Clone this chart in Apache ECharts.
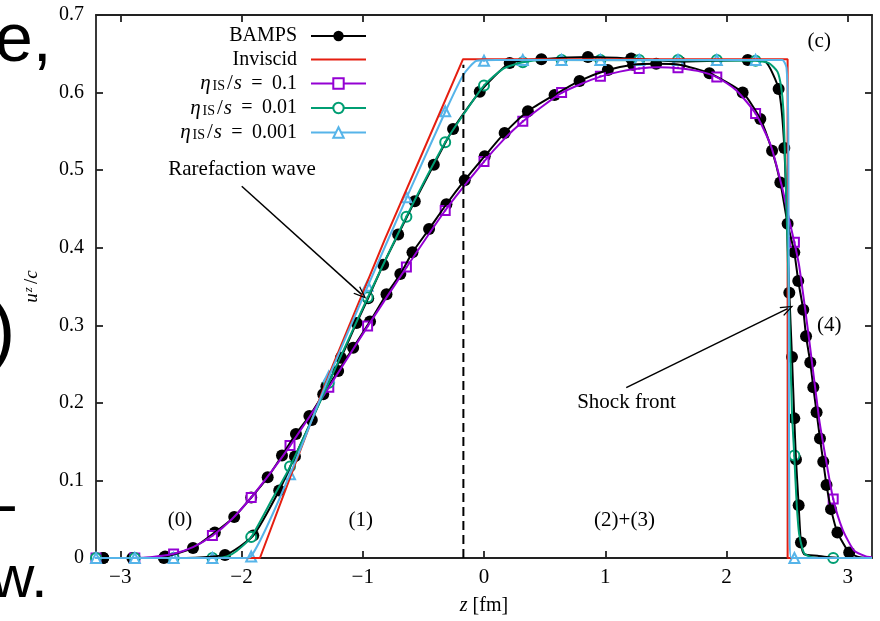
<!DOCTYPE html>
<html><head><meta charset="utf-8">
<script src="https://cdn.jsdelivr.net/npm/echarts@6/dist/echarts.min.js"></script>
<style>html,body{margin:0;padding:0;background:#fff}#c{width:880px;height:621px}</style>
</head><body><div id="c"></div>
<script>
const SERIF = "'Liberation Serif','Times New Roman',serif";
const SANS = "'Liberation Sans',Arial,sans-serif";

// ---- axes ----
const xTicks = [-3, -2, -1, 0, 1, 2, 3];
const yTicks = [0, 0.1, 0.2, 0.3, 0.4, 0.5, 0.6, 0.7];

// ---- marker grid shared by the hydro curves ----
const markZ = [-3.2,-2.88,-2.56,-2.24,-1.92,-1.6,-1.28,-0.96,-0.64,-0.32,0,0.32,0.64,0.96,1.28,1.6,1.92,2.24,2.56,2.88,3.2];
const eta01Marks   = [0,0,0.005,0.029,0.078,0.145,0.220,0.299,0.375,0.448,0.511,0.563,0.600,0.621,0.631,0.632,0.620,0.573,0.407,0.076,null];
const eta001Marks  = [0,0,0,0,0.027,0.118,0.226,0.336,0.440,0.536,0.609,0.639,0.642,0.642,0.642,0.642,0.642,0.641,0.132,0,null];
const eta0001Marks = [0,0,0,0,0.002,0.108,0.234,0.351,0.465,0.576,0.641,0.642,0.642,0.642,0.642,0.642,0.642,0.642,0,null,null];

// ---- continuous curves ----
const inviscidCurve = [[-3.2,0],[-1.848,0],[-1.594,0.106],[-1.298,0.229],[-0.817,0.411],[-0.5,0.525],[-0.173,0.643],[2.504,0.643],[2.504,0],[3.2,0]];
const eta01Curve = [[-3.2,0],[-2.88,0],[-2.75,0.001],[-2.56,0.0055],[-2.4,0.014],[-2.24,0.0287],[-2.08,0.05],[-1.92,0.078],[-1.76,0.11],[-1.6,0.1445],[-1.28,0.2197],[-0.96,0.2986],[-0.64,0.3745],[-0.32,0.448],[0,0.511],[0.16,0.539],[0.32,0.5626],[0.48,0.582],[0.64,0.5995],[0.8,0.611],[0.96,0.6205],[1.12,0.627],[1.28,0.631],[1.44,0.6325],[1.6,0.6315],[1.76,0.628],[1.92,0.620],[2.08,0.603],[2.24,0.573],[2.367,0.531],[2.463,0.475],[2.504,0.445],[2.56,0.4067],[2.6,0.376],[2.683,0.28],[2.764,0.179],[2.82,0.127],[2.88,0.076],[2.957,0.037],[3.053,0.0094],[3.15,0.002],[3.2,0.001]];
const eta001Curve = [[-3.2,0],[-2.2,0],[-2.12,0.002],[-2.04,0.009],[-1.92,0.027],[-1.74,0.078],[-1.6,0.1175],[-1.28,0.226],[-0.96,0.3355],[-0.64,0.44],[-0.32,0.536],[-0.16,0.574],[0,0.609],[0.16,0.631],[0.32,0.639],[0.5,0.642],[2.24,0.641],[2.35,0.638],[2.42,0.627],[2.45,0.608],[2.469,0.578],[2.485,0.505],[2.496,0.445],[2.518,0.316],[2.54,0.1875],[2.559,0.132],[2.578,0.072],[2.6,0.03],[2.64,0.006],[2.7,0.001],[2.76,0],[3.2,0]];
const eta0001Curve = [[-3.2,0],[-2.0,0],[-1.93,0.001],[-1.6,0.108],[-1.28,0.233],[-0.96,0.35],[-0.64,0.464],[-0.32,0.575],[-0.17,0.623],[-0.06,0.641],[0.1,0.642],[2.46,0.642],[2.495,0.632],[2.51,0.55],[2.515,0.2],[2.52,0.03],[2.535,0],[3.2,0]];

// ---- BAMPS points (two runs) ----
const bampsA = [[-3.14,0],[-2.9,0],[-2.63,0.002],[-2.40,0.013],[-2.22,0.033],[-2.06,0.053],[-1.92,0.078],[-1.784,0.104],[-1.666,0.132],[-1.551,0.16],[-1.44,0.183],[-1.326,0.211],[-1.203,0.241],[-1.079,0.271],[-0.94,0.305],[-0.804,0.34],[-0.69,0.366],[-0.59,0.394],[-0.453,0.424],[-0.31,0.456],[-0.159,0.487],[0.006,0.518],[0.17,0.548],[0.362,0.576],[0.582,0.597],[0.788,0.615],[1.021,0.629],[1.23,0.636],[1.42,0.637],[1.612,0.636],[1.859,0.625],[2.133,0.6],[2.279,0.566],[2.376,0.525],[2.444,0.484],[2.504,0.431],[2.559,0.394],[2.592,0.357],[2.633,0.32],[2.656,0.286],[2.691,0.252],[2.716,0.22],[2.743,0.188],[2.771,0.154],[2.798,0.124],[2.825,0.094],[2.862,0.063],[2.915,0.033],[3.012,0.007]];
const bampsAEnds = [[-3.2,0],[3.1,0.001],[3.2,0]];
const bampsB = [[-3.14,0],[-2.64,0],[-2.136,0.004],[-1.903,0.029],[-1.689,0.087],[-1.559,0.131],[-1.42,0.178],[-1.3,0.221],[-1.18,0.258],[-1.051,0.303],[-0.955,0.335],[-0.832,0.378],[-0.708,0.417],[-0.571,0.46],[-0.414,0.507],[-0.255,0.553],[-0.035,0.601],[0.212,0.638],[0.473,0.643],[0.857,0.646],[1.214,0.644],[1.612,0.64],[2.175,0.642],[2.43,0.6045],[2.477,0.5286],[2.518,0.342],[2.54,0.259],[2.559,0.18],[2.573,0.127],[2.595,0.068],[2.614,0.02]];
const bampsBEnds = [[-3.2,0],[2.32,0.64],[2.64,0.005],[2.75,0.003],[2.85,0.001],[2.95,0],[3.2,0]];

// ---- annotations (data coordinates) ----
const dashedZ = -0.17, dashedTop = 0.636;
const textNotes = [
  {t:'Rarefaction wave', z:-1.996, u:0.5006},
  {t:'Shock front', z:1.175, u:0.2008},
  {t:'(c)', z:2.765, u:0.6654},
  {t:'(0)', z:-2.507, u:0.049},
  {t:'(1)', z:-1.016, u:0.049},
  {t:'(2)+(3)', z:1.159, u:0.049},
  {t:'(4)', z:2.847, u:0.300}
];
const arrows = [
  {from:[-1.998,0.4792], to:[-1.01,0.3398]},
  {from:[1.173,0.2197], to:[2.504,0.3214]}
];

const COLORS = {bamps:'#000000', inv:'#e51e10', e1:'#9400d3', e2:'#009e73', e3:'#56b4e9'};

function pairs(zs, us){ const o=[]; zs.forEach((z,i)=>{ if(us[i]!==null) o.push([z,us[i]]); }); return o; }
function merged(a,b){ return a.concat(b).sort((p,q)=>p[0]-q[0]); }

const ETA = '{i|η}{sub|IS}{sl|/}{s|s}{eq|=}';
const LEG = {
  'BAMPS': '{n|BAMPS}{gap| }',
  'Inviscid': '{n|Inviscid}{gap| }',
  'eta01': ETA + '{n|0.1}{gap| }',
  'eta001': ETA + '{n|0.01}{gap| }',
  'eta0001': ETA + '{n|0.001}{gap| }'
};

function hydro(name, color, sym, size, curve, marks){
  return [
    {type:'line', name:name, data:curve, showSymbol:false, symbol:sym, symbolSize:size, smooth:0.2,
     lineStyle:{color:color, width:2}, itemStyle:{color:color}, silent:true},
    {type:'scatter', data:marks, symbol:sym, symbolSize:size, clip:false, silent:true,
     itemStyle:{color:color, borderColor:color, borderWidth:1.8, opacity:1}},
    {type:'scatter', data:marks, symbol:'rect', symbolSize:2, clip:false, silent:true,
     itemStyle:{color:color, opacity:1}}
  ];
}

const chevron = 'path://M10,0 L20,24 L17.4,24 L10,6.2 L2.6,24 L0,24 Z';

const series = [
  {type:'line', name:'BAMPS', data:merged(bampsA,bampsAEnds), showSymbol:false, symbol:'circle', symbolSize:12, smooth:0.2,
   lineStyle:{color:'#000', width:2}, itemStyle:{color:'#000'}, silent:true},
  {type:'scatter', data:bampsA, symbol:'circle', symbolSize:12, clip:false, silent:true, itemStyle:{color:'#000', opacity:1}},
  {type:'line', name:'BAMPS B', data:merged(bampsB,bampsBEnds), showSymbol:false, symbol:'circle', smooth:0.2,
   lineStyle:{color:'#000', width:2}, itemStyle:{color:'#000'}, silent:true},
  {type:'scatter', data:bampsB, symbol:'circle', symbolSize:12, clip:false, silent:true, itemStyle:{color:'#000', opacity:1}},
  {type:'line', name:'Inviscid', data:inviscidCurve, showSymbol:false, symbol:'none', lineStyle:{color:COLORS.inv, width:2}, itemStyle:{color:COLORS.inv}, silent:true},
  ...hydro('eta01', COLORS.e1, 'emptyRect', 9, eta01Curve, pairs(markZ, eta01Marks)),
  ...hydro('eta001', COLORS.e2, 'emptyCircle', 10, eta001Curve, pairs(markZ, eta001Marks)),
  ...hydro('eta0001', COLORS.e3, 'emptyTriangle', 10, eta0001Curve, pairs(markZ, eta0001Marks)),
  {type:'line', name:'dash', data:[[dashedZ,0],[dashedZ,dashedTop]], showSymbol:false, symbol:'none', silent:true,
   lineStyle:{color:'#000', width:2, type:[9,5]},
   markLine:{silent:true, symbol:['none', chevron], symbolSize:[10,13],
     lineStyle:{color:'#000', width:1.5, type:'solid'}, label:{show:false},
     data: arrows.map(a=>[{coord:a.from},{coord:a.to}])},
   markPoint:{silent:true, symbol:'circle', symbolSize:1, itemStyle:{color:'rgba(0,0,0,0)'},
     label:{show:true, position:'inside', formatter:'{b}', fontFamily:SERIF, fontSize:21, color:'#000'},
     data: textNotes.map(n=>({name:n.t, coord:[n.z,n.u]}))}
  }
];

const axisLineStyle = {color:'#222', width:1.8};
const chart = echarts.init(document.getElementById('c'));
chart.setOption({
  animation:false,
  backgroundColor:'#fff',
  grid:{left:96, right:8, top:15, bottom:62},
  xAxis:[
    {type:'value', min:-3.2, max:3.2, position:'bottom',
     axisLine:{show:true, onZero:false, lineStyle:axisLineStyle},
     axisTick:{show:true, inside:true, length:7, customValues:xTicks, lineStyle:axisLineStyle},
     axisLabel:{customValues:xTicks, margin:9, fontFamily:SERIF, fontSize:21, color:'#000',
       formatter:v=>String(v).replace('-', '\u2212')},
     splitLine:{show:false},
     name:'{i|z}{n| [fm]}', nameLocation:'middle', nameGap:38,
     nameTextStyle:{rich:{i:{fontFamily:SERIF, fontSize:20, fontStyle:'italic', color:'#000', lineHeight:20},
                          n:{fontFamily:SERIF, fontSize:20, color:'#000', lineHeight:20}}}},
    {type:'value', min:-3.2, max:3.2, position:'top',
     axisLine:{show:true, onZero:false, lineStyle:axisLineStyle},
     axisTick:{show:true, inside:true, length:7, customValues:xTicks, lineStyle:axisLineStyle},
     axisLabel:{show:false}, splitLine:{show:false}}
  ],
  yAxis:[
    {type:'value', min:0, max:0.7, interval:0.1, position:'left',
     axisLine:{show:true, onZero:false, lineStyle:axisLineStyle},
     axisTick:{show:true, inside:true, length:7, lineStyle:axisLineStyle},
     axisLabel:{margin:12, fontFamily:SERIF, fontSize:20, color:'#000',
       formatter:v=> (Math.abs(v)<1e-9 ? '0' : v.toFixed(1))},
     splitLine:{show:false},
     name:'{i|u}{sup|z}{n|/}{i|c}', nameLocation:'middle', nameGap:54, nameRotate:90,
     nameTextStyle:{rich:{i:{fontFamily:SERIF, fontSize:19, fontStyle:'italic', color:'#000', lineHeight:20},
                          sup:{fontFamily:SERIF, fontSize:13, fontStyle:'italic', color:'#000', lineHeight:12, verticalAlign:'top', padding:[0,3,0,1]},
                          n:{fontFamily:SERIF, fontSize:19, color:'#000', lineHeight:20}}}},
    {type:'value', min:0, max:0.7, interval:0.1, position:'right',
     axisLine:{show:true, onZero:false, lineStyle:axisLineStyle},
     axisTick:{show:true, inside:true, length:7, lineStyle:axisLineStyle},
     axisLabel:{show:false}, splitLine:{show:false}}
  ],
  legend:{orient:'vertical', align:'right', right:513, top:26, padding:0,
    itemWidth:55, itemHeight:13, itemGap:3.5, selectedMode:false,
    formatter:name=>LEG[name] || name,
    textStyle:{fontFamily:SERIF, fontSize:20, color:'#000', lineHeight:20,
      rich:{n:{fontFamily:SERIF, fontSize:20, color:'#000', lineHeight:20},
            i:{fontFamily:SERIF, fontSize:21, fontStyle:'italic', color:'#000', lineHeight:20, padding:[0,1,0,0]},
            sub:{fontFamily:SERIF, fontSize:14, color:'#000', lineHeight:10, verticalAlign:'bottom', padding:[0,1,0,1]},
            sl:{fontFamily:SERIF, fontSize:21, color:'#000', lineHeight:20, padding:[0,1,0,1]},
            s:{fontFamily:SERIF, fontSize:21, fontStyle:'italic', color:'#000', lineHeight:20},
            eq:{fontFamily:SERIF, fontSize:20, color:'#000', lineHeight:20, width:30, align:'center'},
            gap:{width:9, fontSize:20, lineHeight:20}}},
    data:['BAMPS', {name:'Inviscid', itemStyle:{opacity:0}}, 'eta01', 'eta001', 'eta0001']},
  graphic:[
    {type:'text', x:-5, y:42, style:{text:'e,', fontFamily:SANS, fontSize:68, fill:'#000', verticalAlign:'middle'}},
    {type:'text', x:-10, y:334, style:{text:')', fontFamily:SANS, fontSize:76, fill:'#000', verticalAlign:'middle'}},
    {type:'text', x:-24, y:508, style:{text:'\u2013', fontFamily:SANS, fontSize:70, fill:'#000', verticalAlign:'middle'}},
    {type:'text', x:-9, y:580, style:{text:'w.', fontFamily:SANS, fontSize:60, fill:'#000', verticalAlign:'middle'}}
  ],
  series:series
});
</script></body></html>
